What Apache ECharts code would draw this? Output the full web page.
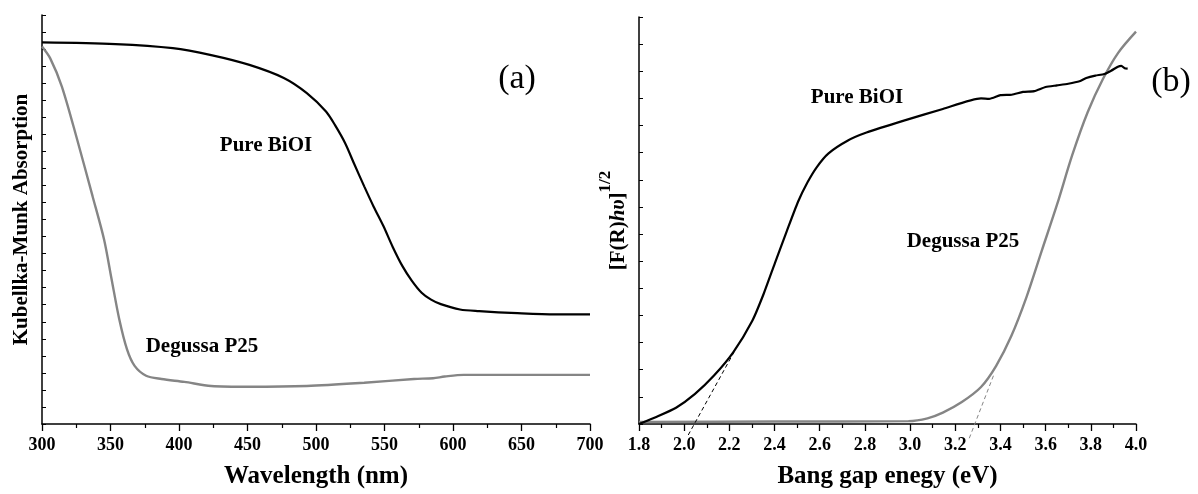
<!DOCTYPE html>
<html>
<head>
<meta charset="utf-8">
<script src="https://cdn.jsdelivr.net/npm/echarts@6/dist/echarts.min.js"></script>
<style>html,body{margin:0;padding:0;background:#fff}#c{width:1198px;height:494px}</style>
</head>
<body>
<div id="c"></div>
<script>
// Panel (a): Kubelka-Munk absorption vs wavelength (arbitrary units 0-100)
const wlTicks = [300, 700, 50];
const wlBiOI = [300,353.6,395.5,423.5,451.4,476.5,493.3,507.3,514,521.2,528,535.2,542,549.2,556,563.1,570,577.1,584,591.1,605.1,619.1,647,674.9,700];
const kmBiOI = [93.3,92.9,91.9,90.2,87.8,84.6,80.9,76.4,73.0,68.7,63.5,58.1,53.2,48.4,43.3,38.6,35.0,32.1,30.4,29.3,28.0,27.6,27.1,26.8,26.8];
const wlP25 = [300,306,314.5,325.7,336.9,345.3,350.8,356.4,362,367.6,376,387.2,403.9,423.5,451.4,493.3,535.2,571.5,585.5,593.9,607.8,650,700];
const kmP25 = [92.3,89.4,82.5,69.5,55.7,45.1,35.4,25.6,18.3,14.2,11.8,11.0,10.3,9.3,9.1,9.3,10.1,11.0,11.2,11.6,12.0,12.0,12.0];

// Panel (b): [F(R)hv]^1/2 vs photon energy (arbitrary units 0-100)
const evTicks = [1.8, 4.0, 0.2];
const evBiOI = [1.8,1.879,1.964,2.048,2.132,2.217,2.301,2.352,2.402,2.453,2.504,2.546,2.588,2.639,2.723,2.807,2.976,3.145,3.314,3.35,3.40,3.45,3.50,3.55,3.60,3.65,3.70,3.75,3.78,3.82,3.86,3.89,3.92,3.935,3.95,3.963];
const fBiOI = [0,1.8,4.0,7.4,11.9,17.6,25.3,32.0,39.6,47.2,54.6,59.4,63.2,66.5,69.6,71.6,74.6,77.4,80.0,79.9,80.8,80.9,81.6,81.8,82.8,83.2,83.6,84.2,85.0,85.6,86.0,86.8,87.8,88.0,87.4,87.3];
const evP25 = [1.8,2.4,2.993,3.077,3.145,3.229,3.314,3.381,3.448,3.516,3.583,3.651,3.718,3.786,3.853,3.921,4.0];
const fP25 = [0.5,0.6,0.7,1.4,2.8,5.4,9.1,14.3,21.6,31.3,42.6,54.0,66.1,76.6,84.7,91.2,96.4];
const evTanBiOI = [2.018, 2.22];
const fTanBiOI = [-2.7, 17.6];
const evTanP25 = [3.262, 3.372];
const fTanP25 = [-3.5, 12.3];

const zip = (xs, ys) => xs.map((x, i) => [x, ys[i]]);
const FONT = '"Liberation Serif", "Times New Roman", serif';
const labelStyle = {fontFamily: FONT, fontWeight: 'bold', fontSize: 18, color: '#000'};
const titleStyle = {fontFamily: FONT, fontWeight: 'bold', fontSize: 25, color: '#000'};

function xAx(grid, t, nm, fmt) {
  return {
    type: 'value', gridIndex: grid, min: t[0], max: t[1], interval: t[2],
    axisLine: {show: true, onZero: false, lineStyle: {color: '#000', width: 1.5}},
    axisTick: {show: true, length: 7, lineStyle: {color: '#000', width: 1.3}},
    minorTick: {show: true, splitNumber: 2, length: 4, lineStyle: {color: '#000', width: 1.2}},
    splitLine: {show: false}, minorSplitLine: {show: false},
    axisLabel: Object.assign({margin: 12, formatter: fmt}, labelStyle),
    name: nm, nameLocation: 'middle', nameGap: 40, nameTextStyle: titleStyle
  };
}
function yAx(grid, n, nm, gap, nts) {
  return {
    type: 'value', gridIndex: grid, min: 0, max: 100, interval: 100 / n,
    axisLine: {show: true, onZero: false, lineStyle: {color: '#000', width: 1.5}},
    axisTick: {show: true, inside: true, length: 4, lineStyle: {color: '#000', width: 1}},
    splitLine: {show: false}, axisLabel: {show: false},
    name: nm, nameLocation: 'middle', nameRotate: 90, nameGap: gap, nameTextStyle: nts
  };
}
const lineS = (xi, data, color, width, extra) => Object.assign({
  type: 'line', xAxisIndex: xi, yAxisIndex: xi, data: data, showSymbol: false, symbol: 'none',
  smooth: 0.3, lineStyle: {color: color, width: width}, silent: true
}, extra || {});

const chart = echarts.init(document.getElementById('c'));
chart.setOption({
  animation: false,
  backgroundColor: '#fff',
  grid: [
    {left: 42, top: 15, width: 548, height: 410},
    {left: 639, top: 17, width: 497, height: 412}
  ],
  xAxis: [
    xAx(0, wlTicks, 'Wavelength (nm)', v => String(v)),
    xAx(1, evTicks, 'Bang gap enegy (eV)', v => v.toFixed(1))
  ],
  yAxis: [
    yAx(0, 24, 'Kubellka-Munk Absorption', 10, {fontFamily: FONT, fontWeight: 'bold', fontSize: 21, color: '#000'}),
    yAx(1, 15, '{n|[F(R)}{i|hυ}{n|]}{s|1/2}', 10, {
      color: '#000',
      rich: {
        n: {fontFamily: FONT, fontWeight: 'bold', fontSize: 21, color: '#000', lineHeight: 32, verticalAlign: 'bottom'},
        i: {fontFamily: FONT, fontWeight: 'bold', fontStyle: 'italic', fontSize: 21, color: '#000', lineHeight: 32, verticalAlign: 'bottom'},
        s: {fontFamily: FONT, fontWeight: 'bold', fontSize: 17, color: '#000', lineHeight: 32, verticalAlign: 'top'}
      }
    })
  ],
  series: [
    lineS(0, zip(wlBiOI, kmBiOI), '#000', 2.2),
    lineS(0, zip(wlP25, kmP25), '#858585', 2.4),
    lineS(1, zip(evP25, fP25), '#858585', 2.4),
    lineS(1, zip(evBiOI, fBiOI), '#000', 2.2, {smooth: 0.2}),
    lineS(1, zip(evTanBiOI, fTanBiOI), '#000', 1, {smooth: false, clip: false, lineStyle: {color: '#000', width: 1, type: [4, 3]}}),
    lineS(1, zip(evTanP25, fTanP25), '#858585', 1, {smooth: false, clip: false, lineStyle: {color: '#858585', width: 1, type: [4, 3]}})
  ],
  graphic: [
    {type: 'text', x: 266, y: 146, style: {text: 'Pure BiOI', font: 'bold 21px ' + FONT, fill: '#000', textAlign: 'center', textVerticalAlign: 'middle'}},
    {type: 'text', x: 202, y: 347, style: {text: 'Degussa P25', font: 'bold 21px ' + FONT, fill: '#000', textAlign: 'center', textVerticalAlign: 'middle'}},
    {type: 'text', x: 517, y: 79, style: {text: '(a)', font: '34px ' + FONT, fill: '#000', textAlign: 'center', textVerticalAlign: 'middle'}},
    {type: 'text', x: 857, y: 98, style: {text: 'Pure BiOI', font: 'bold 21px ' + FONT, fill: '#000', textAlign: 'center', textVerticalAlign: 'middle'}},
    {type: 'text', x: 963, y: 242, style: {text: 'Degussa P25', font: 'bold 21px ' + FONT, fill: '#000', textAlign: 'center', textVerticalAlign: 'middle'}},
    {type: 'text', x: 1171, y: 82, style: {text: '(b)', font: '34px ' + FONT, fill: '#000', textAlign: 'center', textVerticalAlign: 'middle'}}
  ]
});
</script>
</body>
</html>
